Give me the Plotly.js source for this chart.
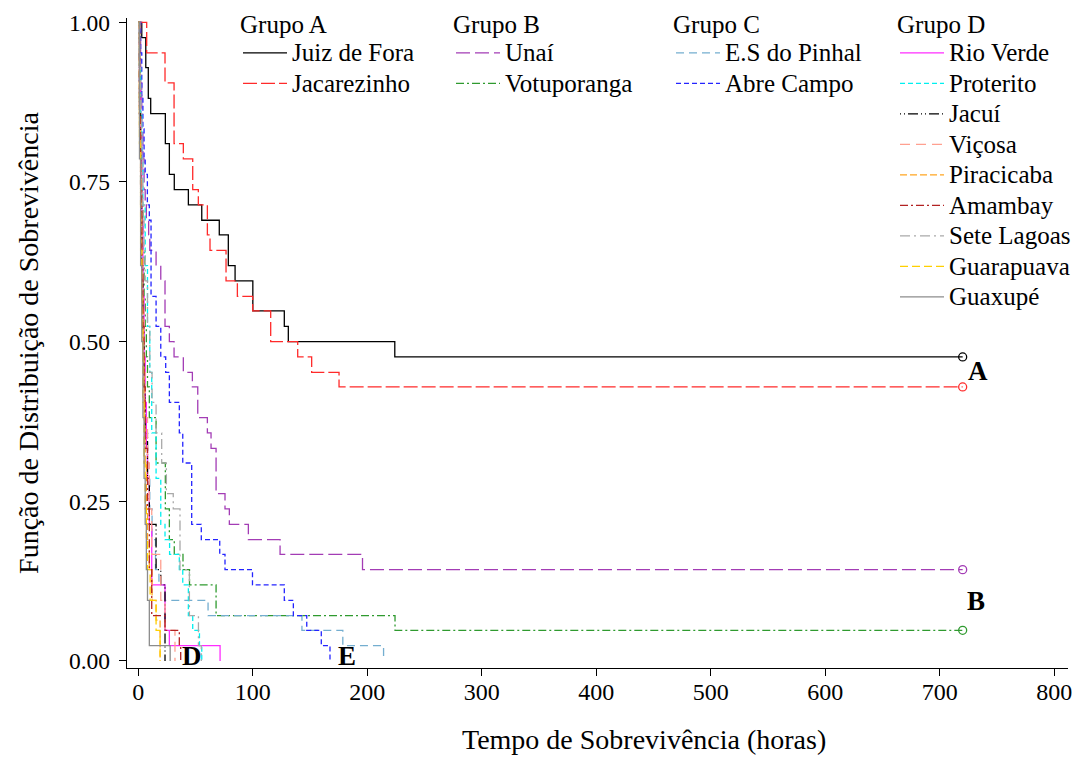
<!DOCTYPE html>
<html><head><meta charset="utf-8">
<script src="https://cdn.plot.ly/plotly-3.0.1.min.js"></script>
<style>html,body{margin:0;padding:0;background:#fff}#chart{width:1086px;height:758px}</style>
</head><body><div id="chart"></div>
<script>
// ---- data (time in hours, survival probability) ----
const juizT = [0, 3, 6.5, 8.7, 10.8, 23.6, 27.1, 31.4, 43.7, 55.4, 70.7, 78.6, 84.5, 100, 127.5, 131, 224, 720];
const juizS = [1, 0.976, 0.929, 0.881, 0.857, 0.810, 0.762, 0.738, 0.714, 0.690, 0.667, 0.619, 0.595, 0.548, 0.524, 0.500, 0.476, 0.476];

const jacaT = [0, 7.3, 23.3, 31.2, 39.3, 47.5, 52.4, 60.3, 62.6, 76.6, 86.5, 99.9, 115.6, 139.2, 151.4, 175.3, 720];
const jacaS = [1, 0.952, 0.905, 0.810, 0.786, 0.738, 0.714, 0.667, 0.643, 0.595, 0.571, 0.548, 0.500, 0.476, 0.452, 0.429, 0.429];

const unaiT = [0, 2, 3, 4, 5, 6, 7, 9, 10, 15.5, 19.6, 23.3, 27.1, 31.2, 39.3, 47.2, 51.9, 60.3, 63.5, 67.9, 75.7, 79.5, 96.1, 123.8, 195.8, 720];
const unaiS = [1, 0.905, 0.833, 0.786, 0.738, 0.714, 0.690, 0.667, 0.643, 0.619, 0.595, 0.524, 0.500, 0.476, 0.452, 0.429, 0.381, 0.357, 0.333, 0.262, 0.238, 0.214, 0.190, 0.167, 0.143, 0.143];

const votuT = [0, 1, 2, 3, 4, 5, 6, 7, 8, 9.6, 15.5, 23.6, 27.1, 31.4, 39, 44.7, 67.9, 224.2, 720];
const votuS = [1, 0.905, 0.810, 0.714, 0.643, 0.571, 0.524, 0.476, 0.429, 0.381, 0.310, 0.238, 0.190, 0.167, 0.143, 0.119, 0.071, 0.048, 0.048];

const pinhT = [0, 1, 2, 3, 4, 5, 6, 8, 10, 12, 15, 18, 23.3, 60.9, 142.9, 178.6, 214.2];
const pinhS = [1, 0.881, 0.738, 0.619, 0.524, 0.429, 0.357, 0.286, 0.238, 0.190, 0.143, 0.119, 0.095, 0.071, 0.048, 0.024, 0];

const abreT = [0, 2, 3, 4, 5, 6, 7.9, 9.6, 11.1, 15.5, 19.6, 23.9, 27.1, 35.8, 38.8, 46.6, 55, 71.1, 75.7, 99.7, 127.5, 135.4, 147.1, 159.8, 167.4];
const abreS = [1, 0.952, 0.881, 0.833, 0.786, 0.762, 0.714, 0.690, 0.571, 0.524, 0.476, 0.452, 0.405, 0.357, 0.310, 0.214, 0.190, 0.167, 0.143, 0.119, 0.095, 0.071, 0.048, 0.024, 0];

const rioT = [0, 1, 2, 3, 4, 5, 6, 7, 8, 9.6, 11.7, 23.3, 27.1, 71.4];
const rioS = [1, 0.905, 0.810, 0.690, 0.571, 0.476, 0.405, 0.333, 0.286, 0.214, 0.119, 0.048, 0.024, 0];

const protT = [0, 1, 2, 3, 4, 6, 8, 10, 11.7, 15.5, 19.6, 23.3, 27.3, 35.8, 38.8, 43.7, 47.5, 53.4, 55.4];
const protS = [1, 0.929, 0.857, 0.786, 0.714, 0.619, 0.524, 0.452, 0.357, 0.286, 0.214, 0.190, 0.167, 0.143, 0.119, 0.071, 0.048, 0.024, 0];

const jacuT = [0, 1, 2, 3, 4, 5, 6, 8, 9.6, 15.5, 19.6, 23.3];
const jacuS = [1, 0.857, 0.714, 0.595, 0.500, 0.429, 0.357, 0.286, 0.214, 0.143, 0.119, 0];

const vicoT = [0, 1, 2, 3, 4, 5, 6, 8, 9.6, 11.7, 19.6, 23.3, 32];
const vicoS = [1, 0.881, 0.762, 0.643, 0.548, 0.452, 0.381, 0.310, 0.238, 0.167, 0.095, 0.048, 0];

const piraT = [0, 1, 2, 3, 4, 5, 6, 7, 8, 9.6, 12, 15.5, 19];
const piraS = [1, 0.833, 0.690, 0.571, 0.476, 0.381, 0.310, 0.238, 0.190, 0.143, 0.095, 0.064, 0];

const amamT = [0, 1, 2, 3, 4, 5, 6, 8, 9.6, 11.7, 23.3, 35.8, 37];
const amamS = [1, 0.857, 0.738, 0.619, 0.524, 0.429, 0.333, 0.238, 0.143, 0.071, 0.048, 0.024, 0];

const seteT = [0, 1, 2, 3, 4, 5, 6, 8, 10, 12, 15.5, 20.4, 24.5, 30.5, 36.4, 44.6, 52.5, 55];
const seteS = [1, 0.929, 0.857, 0.786, 0.714, 0.643, 0.595, 0.524, 0.452, 0.405, 0.357, 0.310, 0.262, 0.238, 0.143, 0.071, 0.024, 0];

const guarT = [0, 1, 2, 3, 4, 5, 6, 7, 8, 10.3, 15.5, 19];
const guarS = [1, 0.810, 0.643, 0.524, 0.405, 0.310, 0.238, 0.190, 0.143, 0.095, 0.048, 0];

const guaxT = [0, 1, 2, 3, 4, 5, 6, 7, 8, 9.6, 27.8];
const guaxS = [1, 0.786, 0.619, 0.500, 0.381, 0.286, 0.214, 0.143, 0.095, 0.024, 0];

const groupTitles = ['Grupo A', 'Grupo B', 'Grupo C', 'Grupo D'];
const xTicks = [0, 100, 200, 300, 400, 500, 600, 700, 800];
const yTicks = [0, 0.25, 0.5, 0.75, 1];
const yTickText = ['0.00', '0.25', '0.50', '0.75', '1.00'];
const xTitle = 'Tempo de Sobrevivência (horas)';
const yTitle = 'Função de Distribuição de Sobrevivência';

// ---- styling ----
const FONT = 'Liberation Serif';
const series = [
  {name: 'Juiz de Fora', t: juizT, s: juizS, color: '#000000', dash: 'solid', lg: 'legend', cens: true},
  {name: 'Jacarezinho', t: jacaT, s: jacaS, color: '#ff2a2a', dash: '14px,4px', lg: 'legend', cens: true},
  {name: 'Unaí', t: unaiT, s: unaiS, color: '#a33cb5', dash: '14px,5px', lg: 'legend2', cens: true},
  {name: 'Votuporanga', t: votuT, s: votuS, color: '#2f9a2f', dash: '8px,3px,2px,3px', lg: 'legend2', cens: true},
  {name: 'E.S do Pinhal', t: pinhT, s: pinhS, color: '#74aed0', dash: '8px,5px', lg: 'legend3'},
  {name: 'Abre Campo', t: abreT, s: abreS, color: '#2424ff', dash: '5px,3px', lg: 'legend3'},
  {name: 'Rio Verde', t: rioT, s: rioS, color: '#ff2cff', dash: 'solid', lg: 'legend4'},
  {name: 'Proterito', t: protT, s: protS, color: '#00f0f0', dash: '5px,3px', lg: 'legend4'},
  {name: 'Jacuí', t: jacuT, s: jacuS, color: '#000000', dash: '1px,3px,1px,3px,10px,3px', lg: 'legend4'},
  {name: 'Viçosa', t: vicoT, s: vicoS, color: '#ffa090', dash: '10px,6px', lg: 'legend4'},
  {name: 'Piracicaba', t: piraT, s: piraS, color: '#ffa520', dash: '7px,3px', lg: 'legend4'},
  {name: 'Amambay', t: amamT, s: amamS, color: '#b22222', dash: '8px,3px,2px,3px', lg: 'legend4'},
  {name: 'Sete Lagoas', t: seteT, s: seteS, color: '#a9a9a9', dash: '10px,4px,2px,4px', lg: 'legend4'},
  {name: 'Guarapuava', t: guarT, s: guarS, color: '#ffd000', dash: '8px,4px', lg: 'legend4'},
  {name: 'Guaxupé', t: guaxT, s: guaxS, color: '#8c8c8c', dash: 'solid', lg: 'legend4'}
];

const traces = [];
series.forEach(sr => {
  traces.push({
    type: 'scatter', mode: 'lines', name: '<span style="font-size:25px">' + sr.name + '</span>',
    x: sr.t, y: sr.s,
    line: {shape: 'hv', color: sr.color, width: 1.3, dash: sr.dash},
    legend: sr.lg, hoverinfo: 'x+y'
  });
});
series.filter(sr => sr.cens).forEach(sr => {
  traces.push({
    type: 'scatter', mode: 'markers', showlegend: false,
    x: [sr.t[sr.t.length - 1]], y: [sr.s[sr.s.length - 1]],
    marker: {symbol: 'circle-open', size: 8, color: sr.color, line: {width: 1.3, color: sr.color}},
    legend: sr.lg, hoverinfo: 'skip'
  });
});

const L = 127, R = 18, T = 18, B = 90, W = 1086, H = 758;
const pw = W - L - R, ph = H - T - B;
function lx(px) { return (px - L) / pw; }
function ly(py) { return (H - B - py) / ph; }

function mkLegend(px, title) {
  return {
    x: lx(px), y: ly(-5), xanchor: 'left', yanchor: 'top',
    xref: 'paper', yref: 'paper',
    title: {text: '<span style="font-size:25px">' + title + '</span>', font: {family: FONT, size: 29, color: '#000'}},
    font: {family: FONT, size: 21.15, color: '#000'},
    bgcolor: 'rgba(0,0,0,0)', borderwidth: 0, itemwidth: 44,
    tracegroupgap: 0
  };
}

const labelFont = {family: FONT, size: 27, color: '#000', weight: 'bold'};
const layout = {
  width: W, height: H,
  margin: {l: L, r: R, t: T, b: B, pad: 0, autoexpand: false},
  paper_bgcolor: '#fff', plot_bgcolor: '#fff',
  font: {family: FONT, color: '#000'},
  showlegend: true,
  xaxis: {
    range: [-9.9, 812], tickvals: xTicks, ticktext: xTicks.map(String),
    showgrid: false, zeroline: false, showline: true, linecolor: '#000', linewidth: 1.3,
    ticks: 'outside', ticklen: 7, tickwidth: 1, tickcolor: '#000', ticklabelstandoff: -5,
    tickfont: {family: FONT, size: 24, color: '#000'},
    automargin: false
  },
  yaxis: {
    range: [-0.011, 1.0067], tickvals: yTicks, ticktext: yTickText,
    showgrid: false, zeroline: false, showline: true, linecolor: '#000', linewidth: 1.3,
    ticks: 'outside', ticklen: 7, tickwidth: 1, tickcolor: '#000', ticklabelstandoff: 4,
    tickfont: {family: FONT, size: 23.5, color: '#000'},
    title: {text: yTitle, font: {family: FONT, size: 28, color: '#000'}, standoff: 22},
    automargin: false
  },
  legend: mkLegend(238, groupTitles[0]),
  legend2: mkLegend(451, groupTitles[1]),
  legend3: mkLegend(671, groupTitles[2]),
  legend4: mkLegend(895, groupTitles[3]),
  annotations: [
    {text: xTitle, x: lx(644), y: ly(757), xref: 'paper', yref: 'paper', xanchor: 'center', yanchor: 'bottom',
     showarrow: false, font: {family: FONT, size: 28, color: '#000'}},
    {text: 'A', x: 733, y: juizS[juizS.length - 1] - 0.022, xref: 'x', yref: 'y', showarrow: false, font: labelFont},
    {text: 'B', x: 732, y: 0.094, xref: 'x', yref: 'y', showarrow: false, font: labelFont},
    {text: 'D', x: 47, y: 0.008, xref: 'x', yref: 'y', showarrow: false, font: labelFont},
    {text: 'E', x: 182, y: 0.008, xref: 'x', yref: 'y', showarrow: false, font: labelFont}
  ]
};

Plotly.newPlot('chart', traces, layout, {displayModeBar: false, staticPlot: true});
</script>
</body></html>
